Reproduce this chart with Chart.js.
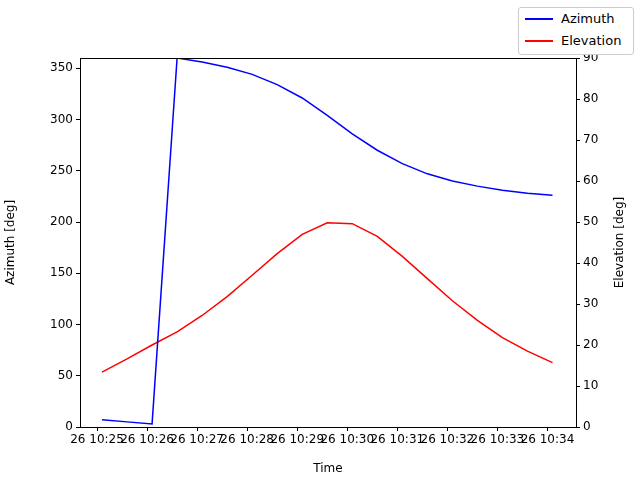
<!DOCTYPE html><html><head><script src="https://cdn.jsdelivr.net/npm/chart.js"></script>
<style>body{margin:0;font-family:'DejaVu Sans'}#w{width:640px;height:480px;position:relative}
#lg{position:absolute;left:518px;top:7px;width:114px;height:46px;border:1px solid #ccc;border-radius:3px;background:#fff;font-size:13px}
#lg div{height:22px;line-height:22px;display:flex;align-items:center}
#lg span{display:inline-block;width:28px;height:2px;margin:0 8px 0 6px}</style></head><body><div id="w"><canvas id="c"></canvas>
<div id="lg"><div><span style="background:#0000ff"></span>Azimuth</div><div><span style="background:#ff0000"></span>Elevation</div></div></div>
<script>
// time in minutes after 10:25:00
const times=[0.1,0.6,1.1,1.6,2.1,2.6,3.1,3.6,4.1,4.6,5.1,5.6,6.1,6.6,7.1,7.6,8.1,8.6,9.1];
const azimuth=[7,5,3,360,356,351,344,334,321,304,286,270,257,247,240,235,231,228,226];
const elevation=[13.4,16.6,20.0,23.2,27.2,31.8,37.0,42.3,47.0,49.8,49.6,46.5,41.6,36.2,30.8,26.0,21.8,18.5,15.7];
const tickLabels=["26 10:25","26 10:26","26 10:27","26 10:28","26 10:29","26 10:30","26 10:31","26 10:32","26 10:33","26 10:34"];
const azTicks=[0,50,100,150,200,250,300,350];
const elTicks=[0,10,20,30,40,50,60,70,80,90];
const F={family:'DejaVu Sans',size:12};
Chart.defaults.font=F;Chart.defaults.color='#000';
const az=times.map((t,i)=>({x:t,y:azimuth[i]}));
const el=times.map((t,i)=>({x:t,y:elevation[i]}));
const border={id:'b',afterDraw(ch){const a=ch.chartArea,x=ch.ctx;x.save();x.strokeStyle='#000';x.lineWidth=1;x.strokeRect(a.left+0.5,a.top+0.5,a.right-a.left,a.bottom-a.top);
x.translate(620,(a.top+a.bottom)/2);x.rotate(-Math.PI/2);x.font='12px DejaVu Sans';x.textAlign='center';x.textBaseline='middle';x.fillStyle='#000';x.fillText('Elevation [deg]',0,0);x.restore();}};
const g={drawOnChartArea:false,tickLength:4,color:'#000'};
new Chart(document.getElementById('c'),{type:'line',data:{datasets:[
{label:'Azimuth',data:az,borderColor:'#0000ff',yAxisID:'y',pointRadius:0,borderWidth:1.5,tension:0},
{label:'Elevation',data:el,borderColor:'#ff0000',yAxisID:'y1',pointRadius:0,borderWidth:1.5,tension:0}]},
options:{animation:false,responsive:true,maintainAspectRatio:false,layout:{padding:{top:58,right:0,left:0,bottom:0}},
plugins:{legend:{display:false},tooltip:{enabled:false}},
scales:{x:{type:'linear',min:-0.34,max:9.57,grid:g,border:{color:'#000'},title:{display:true,text:'Time',font:F,padding:{top:0}},
afterFit(s){s.height=53;},afterBuildTicks(s){s.ticks=tickLabels.map((_,i)=>({value:i}));},ticks:{maxRotation:0,autoSkip:false,padding:2,callback:(v)=>tickLabels[v]}},
y:{min:0,max:360,position:'left',grid:g,border:{color:'#000'},title:{display:true,text:'Azimuth [deg]',font:F},afterFit(s){s.width=80;},afterBuildTicks(s){s.ticks=azTicks.map(v=>({value:v}));},ticks:{padding:3}},
y1:{min:0,max:90,position:'right',grid:g,border:{color:'#000'},afterFit(s){s.width=64;},afterBuildTicks(s){s.ticks=elTicks.map(v=>({value:v}));},ticks:{padding:3}}}},
plugins:[border]});
</script></body></html>
